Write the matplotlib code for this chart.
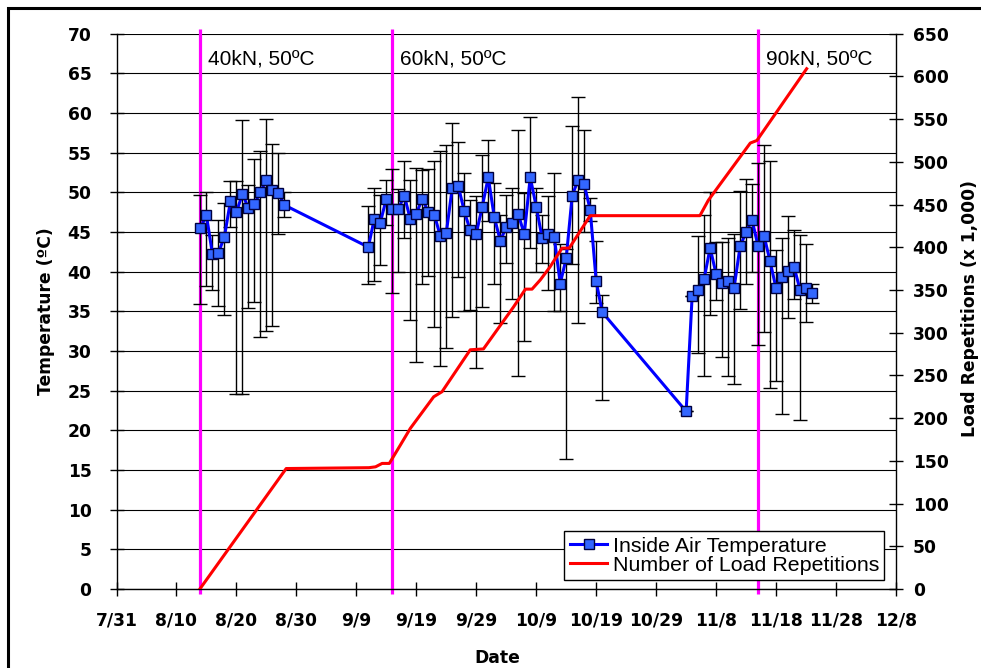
"""Inside air temperature and load repetitions versus date (recreation)."""
import matplotlib
matplotlib.use('Agg')
import matplotlib.pyplot as plt
from matplotlib.patches import Rectangle
import numpy as np

plt.rcParams['font.family'] = ['DejaVu Sans']
LABEL_FONT = ['Liberation Sans', 'DejaVu Sans']

# x axis: days counted from 7/31
date_ticks = [0, 10, 20, 30, 40, 50, 60, 70, 80, 90, 100, 110, 120, 130]
date_labels = ['7/31', '8/10', '8/20', '8/30', '9/9', '9/19', '9/29', '10/9',
               '10/19', '10/29', '11/8', '11/18', '11/28', '12/8']

# daily inside air temperature (ºC) with daily max/min
temp_days = (list(range(14, 29)) + list(range(42, 82)) + list(range(95, 117)))
temp_avg = [45.5, 47.1, 42.2, 42.4, 44.4, 48.9, 47.5, 49.8, 48.0, 48.5, 50.1, 51.5, 50.3, 49.9, 48.4,
            43.1, 46.7, 46.2, 49.2, 47.9, 47.9, 49.6, 46.6, 47.3, 49.2, 47.5, 47.2, 44.5, 44.9, 50.6,
            50.8, 47.6, 45.2, 44.8, 48.2, 51.9, 46.9, 43.9, 45.6, 46.1, 47.3, 44.7, 51.9, 48.2, 44.2,
            44.8, 44.4, 38.5, 41.7, 49.6, 51.6, 51.0, 47.8, 38.8, 34.9,
            22.4, 36.9, 37.7, 39.1, 43.0, 39.7, 38.6, 38.8, 38.0, 43.2, 45.0, 46.5, 43.2, 44.5, 41.3,
            37.9, 39.3, 40.1, 40.6, 37.7, 37.9, 37.3]
temp_max = [49.7, 50.0, 44.6, 46.5, 48.7, 51.4, 51.4, 59.1, 50.9, 54.2, 55.2, 59.2, 56.1, 55.0, 50.1,
            48.3, 50.6, 49.7, 51.6, 53.0, 50.4, 53.9, 51.5, 53.1, 52.8, 53.0, 53.9, 55.2, 56.0, 58.7,
            56.3, 52.4, 49.0, 49.5, 54.7, 56.6, 51.2, 47.1, 49.7, 50.6, 57.9, 49.9, 59.5, 50.6, 47.1,
            49.5, 52.4, 43.5, 42.9, 58.4, 62.0, 57.9, 49.3, 43.9, 37.0,
            22.4, 36.9, 44.5, 47.1, 50.0, 43.7, 43.7, 44.2, 44.7, 50.2, 51.7, 51.0, 53.7, 56.0, 53.9,
            42.7, 44.2, 47.0, 45.3, 44.6, 43.5, 38.5]
temp_min = [35.9, 38.2, 37.7, 35.7, 34.5, 45.6, 24.6, 24.6, 35.4, 36.2, 31.8, 32.5, 33.2, 44.8, 46.9,
            38.5, 38.8, 40.9, 45.9, 37.3, 39.9, 44.2, 33.9, 28.6, 38.5, 39.5, 33.0, 28.1, 30.4, 34.3,
            39.3, 35.1, 35.2, 27.9, 35.6, 46.4, 38.4, 33.5, 41.1, 36.5, 26.8, 31.3, 43.0, 40.0, 41.1,
            37.7, 35.1, 35.1, 16.4, 41.0, 33.5, 45.0, 46.4, 36.1, 23.8,
            22.4, 36.9, 29.7, 26.8, 34.5, 36.4, 29.2, 26.8, 25.9, 35.3, 38.4, 40.0, 30.7, 32.4, 25.4,
            26.2, 22.0, 34.2, 36.6, 21.3, 33.6, 36.1]

# cumulative load repetitions (x 1,000)
load_days = [13.9, 28.3, 42.1, 43.2, 44.3, 45.5, 47.3, 49.0, 52.9, 54.3, 59.0, 61.2, 66.2,
             68.2, 69.3, 70.7, 72.3, 74.3, 75.5, 79.0, 97.3, 98.7, 105.7, 106.8, 115.1]
load_reps = [0, 141, 142, 143, 147, 147, 168, 188, 225, 231, 280, 281, 330,
             351, 351, 362, 377, 399, 399, 437, 437, 455, 522, 525, 609]

# load level changes
change_days = [14, 46, 107]
change_labels = ['40kN, 50ºC', '60kN, 50ºC', '90kN, 50ºC']

fig = plt.figure(figsize=(9.81, 6.68), dpi=100)
ax = fig.add_axes([116.5 / 981, 79 / 668, 779.5 / 981, 555.3 / 668])
ax2 = ax.twinx()

# horizontal grid
ax.set_ylim(0, 70)
ax.set_yticks(np.arange(0, 71, 5))
ax.yaxis.grid(True, color='black', linewidth=0.8)
ax.set_axisbelow(True)

# load change markers
ax.vlines(change_days, -0.6, 70.6, colors='#FF00FF', linewidth=2.3, clip_on=False, zorder=2)
for d, lab in zip(change_days, change_labels):
    ax.text(d + 1.3, 66.1, lab, fontsize=15, va='baseline', ha='left',
            family=LABEL_FONT, zorder=3)

t = np.array(temp_avg)
ax.errorbar(temp_days, t, yerr=[t - np.array(temp_min), np.array(temp_max) - t],
            fmt='none', ecolor='black', elinewidth=1, capsize=5, capthick=1, zorder=3)
temp_line, = ax.plot(temp_days, t, '-s', color='#0000FF', linewidth=2.2,
                     markersize=7, markerfacecolor='#3366FF', markeredgecolor='#000040',
                     markeredgewidth=1, zorder=4)

load_line, = ax2.plot(load_days, load_reps, color='#FF0000', linewidth=2.2, zorder=3)
ax2.set_ylim(0, 650)
ax2.set_yticks(np.arange(0, 651, 50))

ax.set_xlim(0, 130)
ax.set_xticks(date_ticks)
ax.set_xticklabels(date_labels)

for a in (ax, ax2):
    for s in a.spines.values():
        s.set_linewidth(1.0)
    a.spines['top'].set_visible(False)
ax.spines['right'].set_visible(False)
ax2.spines['left'].set_visible(False)
ax2.spines['bottom'].set_visible(False)

ax.tick_params(axis='y', direction='inout', length=10, width=1, pad=13,
               labelsize=12.3)
ax.tick_params(axis='x', direction='inout', length=10, width=1, pad=11,
               labelsize=12.3)
ax2.tick_params(axis='y', direction='inout', length=10, width=1, pad=7,
                labelsize=12.3)
for lab in ax.get_xticklabels() + ax.get_yticklabels() + ax2.get_yticklabels():
    lab.set_fontweight('bold')

ax.set_ylabel('Temperature (ºC)', fontsize=12.3, fontweight='bold')
ax.yaxis.set_label_coords(-0.0795, 0.5)
ax2.set_ylabel('Load Repetitions (x 1,000)', fontsize=12.3, fontweight='bold')
ax2.yaxis.set_label_coords(1.083, 0.505)
ax.set_xlabel('Date', fontsize=12.3, fontweight='bold')
ax.xaxis.set_label_coords(0.488, -0.1076)

leg = ax2.legend([temp_line, load_line],
                 ['Inside Air Temperature', 'Number of Load Repetitions'],
                 loc='lower right', bbox_to_anchor=(0.985, 0.016), borderaxespad=0,
                 prop={'family': LABEL_FONT, 'size': 15.4}, frameon=True, fancybox=False,
                 framealpha=1, edgecolor='black', borderpad=0.25, handlelength=1.75,
                 handletextpad=0.25, labelspacing=0.0)
leg.get_frame().set_linewidth(1.0)

# outer chart border
fig.add_artist(Rectangle((7.5 / 981, -0.05), 1.1, 1 - 7.5 / 668 + 0.05,
                         transform=fig.transFigure, fill=False,
                         edgecolor='black', linewidth=2.2, clip_on=False))

fig.savefig('out.png', dpi=100)
